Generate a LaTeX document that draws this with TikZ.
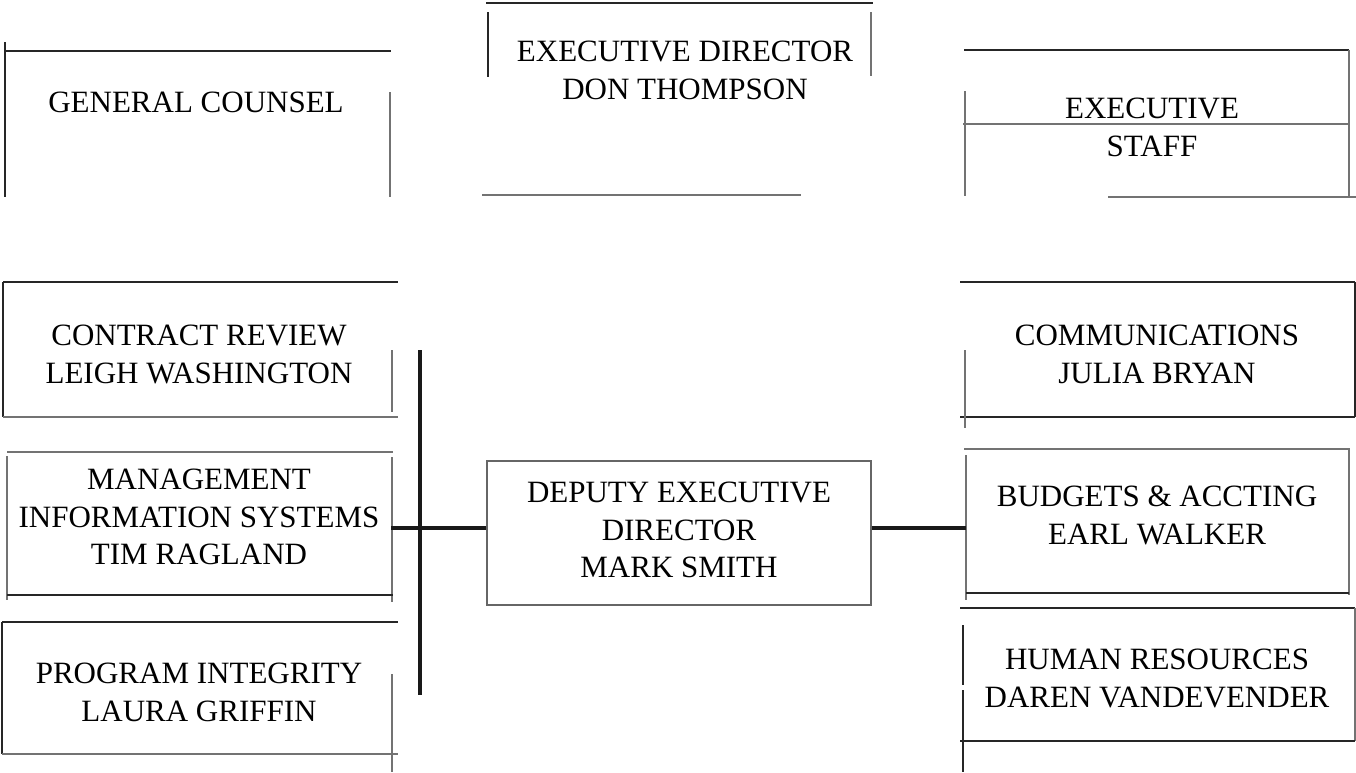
\documentclass[tikz,border=0pt]{standalone}
\usepackage{fontspec}
\setmainfont{Liberation Serif}
\begin{document}
\begin{tikzpicture}[x=1pt,y=-1pt,
  dk/.style={line width=1.6pt, draw=black!85},
  lt/.style={line width=1.1pt, draw=black!55},
  conn/.style={line width=3.4pt, draw=black!90},
  lbl/.style={font=\fontsize{31}{37.5}\selectfont, align=center, inner sep=0pt, anchor=north},
  depbox/.style={draw=black!60, line width=1.1pt, minimum width=384pt, minimum height=144pt, inner sep=0pt}]
\useasboundingbox (0,0) rectangle (1356,772);
\fill[white] (0,0) rectangle (1356,772);

% General Counsel
\draw[dk] (5,51) -- (391,51);
\draw[dk] (5,42) -- (5,197);
\draw[lt] (390,92) -- (390,197);
\node[lbl] (gc) at (196,92) {GENERAL COUNSEL};

% Executive Director
\draw[dk] (486,3) -- (873,3);
\draw[dk] (488,12) -- (488,77);
\draw[lt] (871,12) -- (871,76);
\draw[lt] (482,195) -- (801,195);
\node[lbl] (ed) at (685,41) {EXECUTIVE DIRECTOR\\DON THOMPSON};

% Executive Staff
\draw[dk] (964,50) -- (1349,50);
\draw[lt] (1349,50) -- (1349,197);
\draw[lt] (963,124) -- (1349,124);
\draw[lt] (965,91) -- (965,196);
\draw[lt] (1108,197) -- (1356,197);
\node[lbl] (es) at (1152,98) {EXECUTIVE\\STAFF};

% Contract Review
\draw[dk] (3,282) -- (398,282);
\draw[dk] (3,282) -- (3,417);
\draw[lt] (3,417) -- (398,417);
\draw[lt] (392,350) -- (392,412);
\node[lbl] (cr) at (199,325) {CONTRACT REVIEW\\LEIGH WASHINGTON};

% MIS
\draw[lt] (7,452) -- (393,452);
\draw[lt] (7,456) -- (7,600);
\draw[lt] (392,457) -- (392,602);
\draw[dk] (7,595) -- (393,595);
\node[lbl] (mis) at (199,469) {MANAGEMENT\\INFORMATION SYSTEMS\\TIM RAGLAND};

% Program Integrity
\draw[dk] (2,622) -- (398,622);
\draw[dk] (2,622) -- (2,754);
\draw[lt] (2,754) -- (398,754);
\draw[lt] (392,674) -- (392,772);
\node[lbl] (pi) at (199,663) {PROGRAM INTEGRITY\\LAURA GRIFFIN};

% Deputy
\node[depbox] (dep) at (679,533) {};
\node[lbl] (deptxt) at (679,482) {DEPUTY EXECUTIVE\\DIRECTOR\\MARK SMITH};

% Communications
\draw[dk] (960,282) -- (1355,282);
\draw[dk] (1355,282) -- (1355,417);
\draw[dk] (960,417) -- (1355,417);
\draw[lt] (965,350) -- (965,428);
\node[lbl] (com) at (1157,325) {COMMUNICATIONS\\JULIA BRYAN};

% Budgets
\draw[lt] (964,449) -- (1350,449);
\draw[lt] (1349,449) -- (1349,595);
\draw[lt] (966,455) -- (966,600);
\draw[dk] (966,593) -- (1349,593);
\node[lbl] (bud) at (1157,486) {BUDGETS \& ACCTING\\EARL WALKER};

% Human Resources
\draw[dk] (960,608) -- (1355,608);
\draw[lt] (1355,608) -- (1355,741);
\draw[dk] (960,741) -- (1355,741);
\draw[dk] (963,625) -- (963,685);
\draw[dk] (963,690) -- (963,772);
\node[lbl] (hr) at (1157,649) {HUMAN RESOURCES\\DAREN VANDEVENDER};

% Connectors
\coordinate (busT) at (420,350);
\coordinate (busB) at (420,695);
\coordinate (jl) at (391,528);
\coordinate (jr) at (966,528);
\draw[conn] (busT) -- (busB);
\draw[conn] (jl) -- (jl -| dep.west);
\draw[conn] (dep.east |- jr) -- (jr);
\end{tikzpicture}
\end{document}
